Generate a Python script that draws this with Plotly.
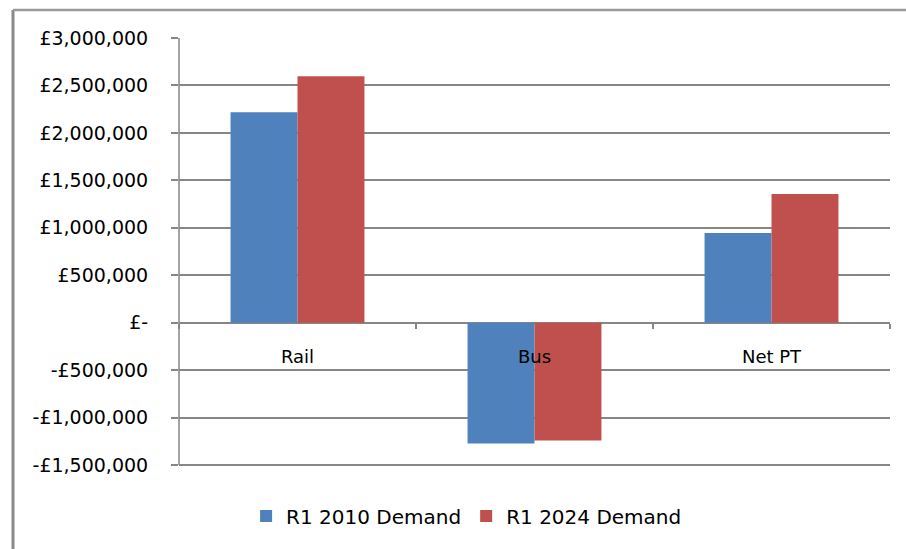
import plotly.graph_objects as go

# Categories and series values (£)
categories = ["Rail", "Bus", "Net PT"]
demand_2010 = [2218000, -1273000, 945000]
demand_2024 = [2598000, -1241000, 1357000]
series_names = ["R1 2010 Demand", "R1 2024 Demand"]

# Value axis ticks
y_ticks = [-1500000, -1000000, -500000, 0, 500000, 1000000, 1500000, 2000000, 2500000, 3000000]
y_tick_labels = ["-£1,500,000", "-£1,000,000", "-£500,000", "£-", "£500,000",
                 "£1,000,000", "£1,500,000", "£2,000,000", "£2,500,000", "£3,000,000"]

W, H = 906, 549
FONT = "DejaVu Sans"
GRID = "#868686"

# plot area in pixels (top tick to bottom tick)
px_l, px_r, px_t, px_b = 179, 890, 38, 465
y_min, y_max = y_ticks[0], y_ticks[-1]
# small extra room below the lowest tick so its gridline is kept
pad = 25000
pad_px = pad * (px_b - px_t) / (y_max - y_min)
dom_x = [px_l / W, px_r / W]
dom_y = [(H - px_b - pad_px) / H, (H - px_t) / H]
lo = y_min - pad
zero_pos = dom_y[0] + (0 - lo) / (y_max - lo) * (dom_y[1] - dom_y[0])

fig = go.Figure()
fig.add_trace(go.Bar(x=categories, y=demand_2010, name=series_names[0],
                     marker=dict(color="#4F81BD", line=dict(width=0))))
fig.add_trace(go.Bar(x=categories, y=demand_2024, name=series_names[1],
                     marker=dict(color="#C0504D", line=dict(width=0))))

fig.update_layout(
    width=W, height=H,
    margin=dict(l=0, r=0, t=0, b=0, autoexpand=False),
    paper_bgcolor="white", plot_bgcolor="white",
    barmode="group", bargap=0.435, bargroupgap=0,
    font=dict(family=FONT, size=18, color="#000000"),
    showlegend=True,
    legend=dict(orientation="h", x=0.515, xanchor="center", y=(H - 516) / H, yanchor="middle",
                font=dict(size=20, family=FONT), bgcolor="rgba(0,0,0,0)",
                itemwidth=30, traceorder="normal"),
    xaxis=dict(
        domain=dom_x, anchor="free", position=zero_pos,
        range=[-0.5, 2.5], type="category",
        showline=False, showgrid=False, zeroline=False,
        ticks="outside", tickson="boundaries", ticklen=5, tickcolor=GRID, tickwidth=1.5,
        ticklabelstandoff=21,
        tickfont=dict(size=18, family=FONT),
    ),
    yaxis=dict(
        domain=dom_y, range=[lo, y_max],
        tickmode="array", tickvals=y_ticks, ticktext=y_tick_labels,
        showline=False,
        ticks="outside", ticklen=7, tickcolor=GRID, tickwidth=1.5,
        ticklabelstandoff=19,
        showgrid=False, zeroline=False,
        minor=dict(tickmode="array", tickvals=y_ticks[:-1], showgrid=True,
                   gridcolor=GRID, gridwidth=1.5, ticks=""),
        tickfont=dict(size=19, family=FONT),
    ),
)

# value axis line, from the lowest to the highest tick
fig.add_shape(type="line", xref="paper", yref="y",
              x0=dom_x[0], x1=dom_x[0], y0=y_min, y1=y_max,
              line=dict(color=GRID, width=1.5), layer="above")

# outer chart frame (left and top edges)
fig.add_shape(type="line", xref="paper", yref="paper",
              x0=13 / W, x1=13 / W, y0=-0.05, y1=(H - 10) / H,
              line=dict(color="#898989", width=3))
fig.add_shape(type="line", xref="paper", yref="paper",
              x0=13 / W, x1=1.05, y0=(H - 10) / H, y1=(H - 10) / H,
              line=dict(color="#9a9a9a", width=2.5))

fig.write_html("out.html")
